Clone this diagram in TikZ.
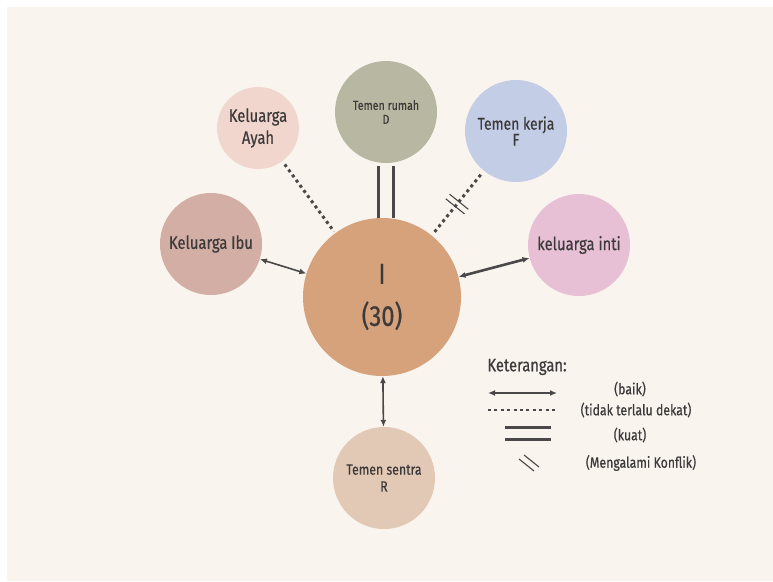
\documentclass[tikz,border=0pt]{standalone}
\usepackage{fontspec}
\setmainfont{Fira Sans}[FakeStretch=0.82, FakeBold=0.5]
\usepackage{tikz}
\usetikzlibrary{arrows.meta,calc,shapes}
\definecolor{latar}{HTML}{FAF4EE}
\definecolor{teks}{HTML}{3C3A3A}
\definecolor{garis}{HTML}{4A4848}
\definecolor{cpusat}{HTML}{D5A27C}
\definecolor{cibu}{HTML}{D2AEA4}
\definecolor{cayah}{HTML}{F1D6CE}
\definecolor{crumah}{HTML}{B8B8A2}
\definecolor{ckerja}{HTML}{C4CDE6}
\definecolor{cinti}{HTML}{E8C0D6}
\definecolor{csentra}{HTML}{E2C9B5}
\tikzstyle{orang} =
  [circle, inner sep=0pt, text=teks, align=center, minimum size=102pt]
\tikzstyle{ket} = [inner sep=0pt, text=teks, font=\fontsize{15}{17}\selectfont]
\tikzstyle{garisbaik} =
  [draw=garis, line width=1.6pt, {Latex[length=7pt,width=6pt]}-{Latex[length=7pt,width=6pt]}]
\tikzstyle{garisjauh} = [draw=garis, line width=3pt, dash pattern=on 3pt off 3.4pt]
\tikzstyle{gariskuat} = [draw=garis, line width=3.6pt]
\tikzstyle{gariskonflik} = [draw=garis, line width=1.1pt]

\begin{document}
\begin{tikzpicture}[x=1pt, y=-1pt]
  \useasboundingbox [fill=white] (0,0) rectangle (773,581);
  \fill [latar] (7,7) rectangle (773,581);

  \node [orang, fill=cpusat, minimum size=158pt,
    font=\fontsize{29}{42}\selectfont] (pusat) at (382,297) {I\\(30)};
  \node [orang, fill=cibu, font=\fontsize{18}{20}\selectfont]
    (ibu) at (211,244) {Keluarga Ibu};
  \node [orang, fill=cayah, minimum size=82pt, font=\fontsize{18}{22}\selectfont]
    (ayah) at (258,128) {Keluarga\\Ayah};
  \node [orang, fill=crumah, font=\fontsize{13}{14}\selectfont]
    (rumah) at (386,112) {Temen rumah\\D};
  \node [orang, fill=ckerja, font=\fontsize{17}{16}\selectfont]
    (kerja) at (516,131) {Temen kerja\\F};
  \node [orang, fill=cinti, font=\fontsize{18}{20}\selectfont]
    (inti) at (579,245) {keluarga inti};
  \node [orang, fill=csentra, font=\fontsize{15}{17}\selectfont]
    (sentra) at (384,478) {Temen sentra\\R};

  \draw [garisbaik] (ibu) to (pusat);
  \draw [garisbaik, line width=2.6pt] (inti) to (pusat);
  \draw [garisbaik] (pusat) to (sentra);
  \draw [garisjauh, shorten <=4pt, shorten >=2pt] (ayah) to (pusat);
  \draw [garisjauh, shorten <=5pt, shorten >=4pt] (kerja) to (pusat);
  \draw [gariskuat, shorten <=3pt] ([xshift=-7.5pt]rumah.south)
    -- ([xshift=-7.5pt]rumah.south |- pusat.north);
  \draw [gariskuat, shorten <=3pt] ([xshift=7.5pt]rumah.south)
    -- ([xshift=7.5pt]rumah.south |- pusat.north);

  % tanda konflik
  \coordinate (k) at ($(kerja)!.44!(pusat)$);
  \coordinate (k1) at ($(k)!3pt!(kerja)$);
  \coordinate (k2) at ($(k)!-3pt!(kerja)$);
  \draw [gariskonflik] ($(k1)!12pt!90:(kerja)$) -- ($(k1)!12pt!-90:(kerja)$);
  \draw [gariskonflik] ($(k2)!12pt!90:(kerja)$) -- ($(k2)!12pt!-90:(kerja)$);

  % keterangan
  \node [ket, font=\fontsize{18}{20}\selectfont] (judul) at (527,367) {Keterangan:};
  \coordinate (b1) at (488,393); \coordinate (b2) at (557,393);
  \coordinate (d1) at (488,410); \coordinate (d2) at (558,410);
  \coordinate (s1) at (505,427); \coordinate (s2) at (551,427);
  \coordinate (s3) at (505,439); \coordinate (s4) at (551,439);
  \coordinate (c1) at (519,459); \coordinate (c2) at (534,471);
  \coordinate (c3) at (524,455); \coordinate (c4) at (539,467);
  \draw [garisbaik, line width=2.4pt] (b1) -- (b2);
  \draw [garisjauh, line width=2.4pt] (d1) -- (d2);
  \draw [gariskuat, line width=3pt] (s1) -- (s2);
  \draw [gariskuat, line width=3pt] (s3) -- (s4);
  \draw [gariskonflik] (c1) -- (c2);
  \draw [gariskonflik] (c3) -- (c4);
  \node [ket] (baik) at (630,389) {(baik)};
  \node [ket] (jauh) at (636,410) {(tidak terlalu dekat)};
  \node [ket] (kuat) at (630,435) {(kuat)};
  \node [ket] (konflik) at (641,463) {(Mengalami Konflik)};
\end{tikzpicture}
\end{document}
